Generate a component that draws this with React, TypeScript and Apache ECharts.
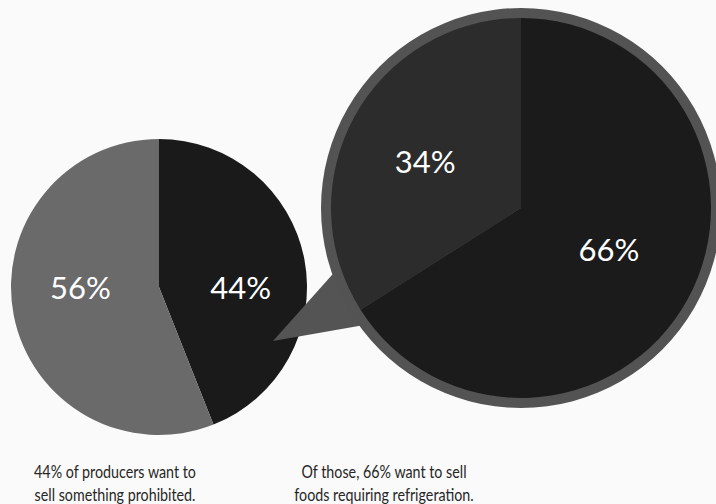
import React, { useEffect, useRef } from "react";
import * as echarts from "echarts";

const leftNames = ["Want to sell prohibited", "Other"];
const leftValues = [44, 56];
const rightNames = ["Requiring refrigeration", "Other"];
const rightValues = [66, 34];
const captionLeft = ["44% of producers want to", "sell something prohibited."];
const captionRight = ["Of those, 66% want to sell", "foods requiring refrigeration."];

const FONT = "Lato, 'DejaVu Sans', sans-serif";

export default function App() {
  const ref = useRef<HTMLDivElement>(null);
  useEffect(() => {
    if (!ref.current) return;
    const chart = echarts.init(ref.current, undefined, { renderer: "svg" });
    const labelStyle = {
      show: true,
      position: "inside",
      formatter: "{c}%",
      color: "#ffffff",
      fontSize: 31,
      fontFamily: FONT,
      fontWeight: 400,
    };
    const caption = (t: string, i: number, cx: number) => ({
      type: "text",
      z: 10,
      x: cx,
      y: 472 + i * 23,
      scaleX: 0.84,
      style: {
        text: t,
        fill: "#262626",
        font: `17px ${FONT}`,
        textAlign: "center",
        textVerticalAlign: "middle",
      },
    });
    chart.setOption({
      animation: false,
      backgroundColor: "#fafafa",
      graphic: [
        {
          type: "polygon",
          z: 5,
          shape: { points: [[273, 341], [340, 266], [370, 324]] },
          style: { fill: "#545454" },
        },
        {
          type: "circle",
          z: 5,
          shape: { cx: 521, cy: 208, r: 200 },
          style: { fill: "#535353" },
        },
        ...captionLeft.map((t, i) => caption(t, i, 115)),
        ...captionRight.map((t, i) => caption(t, i, 384)),
      ],
      series: [
        {
          type: "pie",
          z: 1,
          center: [159, 287],
          radius: [0, 148],
          startAngle: 90,
          clockwise: true,
          silent: true,
          label: labelStyle,
          labelLine: { show: false },
          labelLayout: (p: any) => ({ dy: p.dataIndex === 0 ? 14 : -14, dx: p.dataIndex === 0 ? 6 : -3 }),
          itemStyle: { borderWidth: 0 },
          data: leftNames.map((n, i) => ({
            name: n,
            value: leftValues[i],
            itemStyle: { color: i === 0 ? "#1a1a1a" : "#6a6a6a" },
          })),
        },
        {
          type: "pie",
          z: 8,
          center: [521, 208],
          radius: [0, 190],
          startAngle: 90,
          clockwise: true,
          silent: true,
          label: labelStyle,
          labelLine: { show: false },
          labelLayout: (p: any) => ({ dy: p.dataIndex === 0 ? -6 : 0, dx: p.dataIndex === 0 ? 2 : -10 }),
          itemStyle: { borderWidth: 0 },
          data: rightNames.map((n, i) => ({
            name: n,
            value: rightValues[i],
            itemStyle: { color: i === 0 ? "#1b1b1b" : "#2c2c2c" },
          })),
        },
      ],
    });
    return () => chart.dispose();
  }, []);
  return <div ref={ref} style={{ width: 716, height: 504, position: "absolute", left: 0, top: 0 }} />;
}
